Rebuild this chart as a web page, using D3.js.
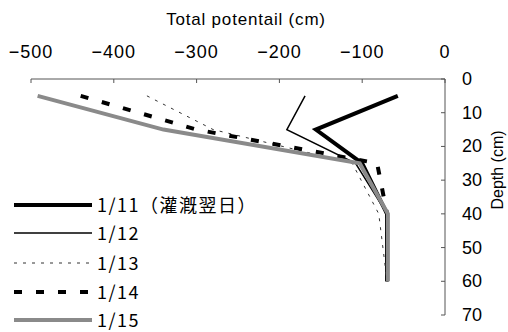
<!DOCTYPE html>
<html>
<head>
<meta charset="utf-8">
<script src="https://cdn.jsdelivr.net/npm/d3@7"></script>
<style>
  body { margin: 0; background: #fff; }
  svg { display: block; font-family: "Liberation Sans", "Noto Sans CJK JP", sans-serif; }
</style>
</head>
<body>
<svg id="chart" width="508" height="332"></svg>
<script>
// depth of each reading (cm)
var depths = [5, 15, 25, 40, 60];
// total potential (cm) per date
var dates = ["1/11（灌漑翌日）", "1/12", "1/13", "1/14", "1/15"];
var p0111 = [-57, -156, -100, -70, -70];
var p0112 = [-169, -191, -108, -70, -70];
var p0113 = [-360, -280, -112, -80, -70];
var p0114 = [-440, -300, -82, -70, -70];
var p0115 = [-492, -340, -103, -69, -69];
var xTicks = [-500, -400, -300, -200, -100, 0];
var yTicks = [0, 10, 20, 30, 40, 50, 60, 70];

var series = [p0111, p0112, p0113, p0114, p0115];
var styles = [
  {color: "#000", width: 4, dash: null},
  {color: "#000", width: 1.5, dash: null},
  {color: "#333", width: 1, dash: "3,6"},
  {color: "#000", width: 4, dash: "8,14"},
  {color: "#8a8a8a", width: 4, dash: null}
];

var svg = d3.select("#chart");

var x = d3.scaleLinear().domain([-500, 0]).range([31, 445]);
var y = d3.scaleLinear().domain([0, 70]).range([79, 315]);

// title
svg.append("text")
  .attr("x", 246).attr("y", 25)
  .attr("text-anchor", "middle")
  .attr("font-size", 17)
  .attr("letter-spacing", 0.8)
  .text("Total potentail (cm)");

// top axis
var topAxis = svg.append("g");
topAxis.append("line")
  .attr("x1", x(-500)).attr("x2", x(0))
  .attr("y1", y(0)).attr("y2", y(0))
  .attr("stroke", "#555").attr("stroke-width", 1);
topAxis.selectAll(".tk").data(xTicks).enter().append("line")
  .attr("x1", function (d) { return x(d); })
  .attr("x2", function (d) { return x(d); })
  .attr("y1", y(0)).attr("y2", y(0) + 4)
  .attr("stroke", "#555");
topAxis.selectAll(".lb").data(xTicks).enter().append("text")
  .attr("x", function (d) { return x(d); })
  .attr("y", 58)
  .attr("text-anchor", "middle")
  .attr("font-size", 18)
  .attr("letter-spacing", 1)
  .text(function (d) { return d < 0 ? "\u2212" + Math.abs(d) : d; });

// right axis
var rightAxis = svg.append("g");
rightAxis.append("line")
  .attr("x1", x(0)).attr("x2", x(0))
  .attr("y1", y(0)).attr("y2", y(70))
  .attr("stroke", "#555");
rightAxis.selectAll(".tk").data(yTicks).enter().append("line")
  .attr("x1", x(0) - 4).attr("x2", x(0))
  .attr("y1", function (d) { return y(d); })
  .attr("y2", function (d) { return y(d); })
  .attr("stroke", "#555");
rightAxis.selectAll(".lb").data(yTicks).enter().append("text")
  .attr("x", 462)
  .attr("y", function (d) { return y(d) + 6; })
  .attr("font-size", 18)
  .text(function (d) { return d; });

svg.append("text")
  .attr("transform", "translate(503,170) rotate(-90)")
  .attr("text-anchor", "middle")
  .attr("font-size", 16)
  .text("Depth (cm)");

// lines
var line = d3.line()
  .x(function (d) { return x(d[0]); })
  .y(function (d) { return y(d[1]); });

series.forEach(function (vals, i) {
  var pts = vals.map(function (v, j) { return [v, depths[j]]; });
  svg.append("path")
    .datum(pts)
    .attr("d", line)
    .attr("fill", "none")
    .attr("stroke", styles[i].color)
    .attr("stroke-width", styles[i].width)
    .attr("stroke-dasharray", styles[i].dash)
    .attr("stroke-linejoin", "miter");
});

// legend
var ly = [205, 233, 263, 292, 320];
dates.forEach(function (name, i) {
  svg.append("line")
    .attr("x1", 14).attr("x2", 92)
    .attr("y1", ly[i]).attr("y2", ly[i])
    .attr("stroke", styles[i].color)
    .attr("stroke-width", styles[i].width)
    .attr("stroke-dasharray", styles[i].dash);
  svg.append("text")
    .attr("x", 97).attr("y", ly[i] + 7)
    .attr("font-size", 18)
    .attr("letter-spacing", 1.5)
    .attr("font-family", "'Noto Sans CJK JP', sans-serif")
    .text(name);
});
</script>
</body>
</html>
